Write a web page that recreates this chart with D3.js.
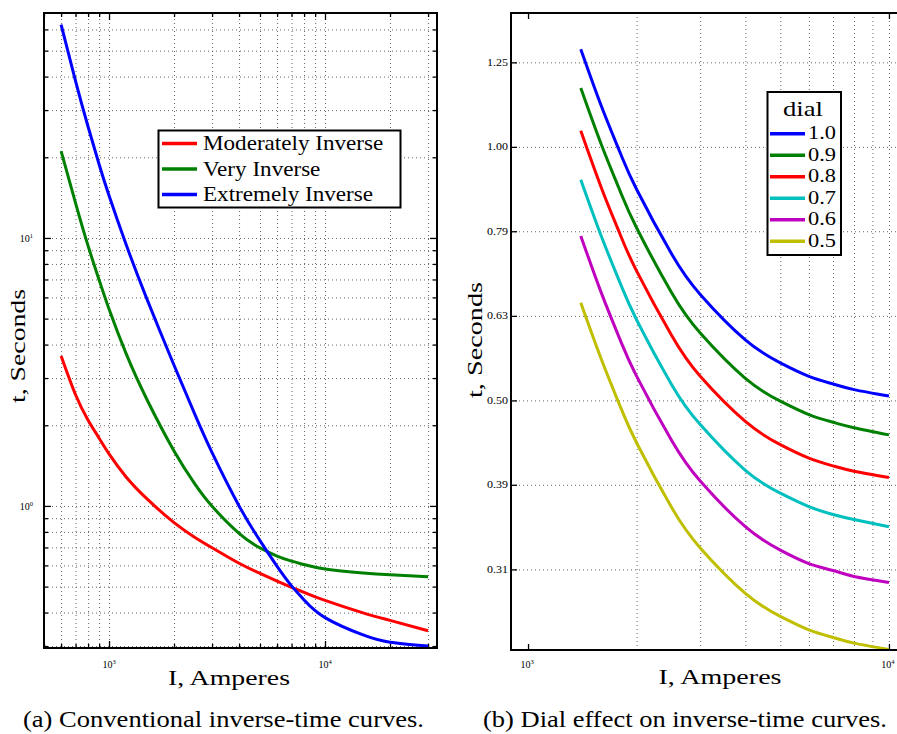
<!DOCTYPE html>
<html>
<head>
<meta charset="utf-8">
<script src="https://cdn.jsdelivr.net/npm/d3@7"></script>
<style>
  body { margin: 0; background: #fff; }
  text { font-family: "Liberation Serif", "Times New Roman", serif; fill: #000; }
  .grid line { stroke: #555; stroke-width: 0.9; stroke-dasharray: 1,3; }
  .grid .domain, .ticks .domain { display: none; }
  .ticks line { stroke: #000; stroke-width: 1.3; }
</style>
</head>
<body>
<svg id="chart" width="897" height="734" font-family="Liberation Serif, serif"></svg>
<script>
// (a) conventional inverse-time curves, current in A, time in s
const currentsA = [600, 700, 800, 900, 1000, 1200, 1500, 2000, 2500, 3000, 4000, 5000, 6000, 7000, 8000, 10000, 15000, 20000, 30000];
const moderatelyInverse = [3.63, 2.60, 2.09, 1.79, 1.563, 1.283, 1.062, 0.866, 0.763, 0.698, 0.611, 0.560, 0.524, 0.497, 0.476, 0.444, 0.399, 0.374, 0.342];
const veryInverse = [21.1, 13.5, 9.34, 6.97, 5.43, 3.70, 2.49, 1.604, 1.206, 0.997, 0.790, 0.697, 0.650, 0.622, 0.604, 0.582, 0.562, 0.553, 0.544];
const extremelyInverse = [62.5, 38.5, 26.0, 18.8, 14.4, 9.45, 5.9, 3.35, 2.19, 1.58, 1.0, 0.742, 0.595, 0.503, 0.446, 0.383, 0.330, 0.310, 0.300];
const curveNamesA = ["Moderately Inverse", "Very Inverse", "Extremely Inverse"];
const curveColorsA = ["#ff0000", "#008000", "#0000ff"];
const majorTicksXA = [1000, 10000];
const majorTicksYA = [1, 10];

// (b) dial effect
const currentsB = [1400, 1600, 1800, 2000, 2500, 3000, 4000, 5000, 6000, 7000, 8000, 10000];
const dial10 = [1.306, 1.115, 0.984, 0.890, 0.746, 0.668, 0.590, 0.554, 0.534, 0.523, 0.515, 0.506];
const dial09 = [1.175, 1.004, 0.886, 0.801, 0.671, 0.601, 0.531, 0.499, 0.481, 0.471, 0.464, 0.455];
const dial08 = [1.045, 0.892, 0.787, 0.712, 0.597, 0.534, 0.472, 0.443, 0.427, 0.418, 0.412, 0.405];
const dial07 = [0.914, 0.781, 0.689, 0.623, 0.522, 0.468, 0.413, 0.388, 0.374, 0.366, 0.361, 0.354];
const dial06 = [0.784, 0.669, 0.590, 0.534, 0.448, 0.401, 0.354, 0.332, 0.320, 0.314, 0.309, 0.304];
const dial05 = [0.653, 0.558, 0.492, 0.445, 0.373, 0.334, 0.295, 0.277, 0.267, 0.2615, 0.2575, 0.253];
const dialLabels = ["1.0", "0.9", "0.8", "0.7", "0.6", "0.5"];
const dialColors = ["#0000ff", "#008000", "#ff0000", "#00bfbf", "#bf00bf", "#bfbf00"];
const majorTicksXB = [1000, 10000];
const tickValuesYB = [1.26, 1.0, 0.794, 0.63, 0.5, 0.397, 0.315];
const tickLabelsYB = ["1.25", "1.00", "0.79", "0.63", "0.50", "0.39", "0.31"];

const svg = d3.select("#chart");
svg.append("rect").attr("width", 897).attr("height", 734).attr("fill", "#fff");

// widen text by factor k (CM-like proportions)
function stretch(sel, k) {
  sel.each(function() {
    const w = this.getComputedTextLength();
    d3.select(this).attr("textLength", w * k).attr("lengthAdjust", "spacingAndGlyphs");
  });
}

function powerLabel(g, x, y, v, anchor) {
  const t = g.append("text").attr("x", x).attr("y", y)
    .attr("text-anchor", anchor).attr("font-size", 10);
  t.append("tspan").text("10");
  t.append("tspan").attr("dy", -4).attr("font-size", 6.5).text(Math.round(Math.log10(v)));
}

// ---------- panel (a) ----------
const a = {left: 44, right: 437, top: 13, bottom: 648};
const xa = d3.scaleLog().domain([500, 33000]).range([a.left, a.right]);
const ya = d3.scaleLog().domain([0.295, 69.1]).range([a.bottom, a.top]);
const ga = svg.append("g");

ga.append("g").attr("class", "grid").attr("transform", `translate(0,${a.bottom})`)
  .call(d3.axisBottom(xa).tickSize(-(a.bottom - a.top)).tickFormat(""));
ga.append("g").attr("class", "grid").attr("transform", `translate(${a.left},0)`)
  .call(d3.axisLeft(ya).tickSize(-(a.right - a.left)).tickFormat(""));

const minorXA = xa.ticks().filter(v => !majorTicksXA.includes(v));
const minorYA = ya.ticks().filter(v => !majorTicksYA.some(m => Math.abs(m - v) < 1e-9));
[[majorTicksXA, 7], [minorXA, 4]].forEach(([vals, len]) => {
  ga.append("g").attr("class", "ticks").attr("transform", `translate(0,${a.bottom})`)
    .call(d3.axisBottom(xa).tickValues(vals).tickSize(-len).tickFormat(""));
  ga.append("g").attr("class", "ticks").attr("transform", `translate(0,${a.top})`)
    .call(d3.axisTop(xa).tickValues(vals).tickSize(-len).tickFormat(""));
});
[[majorTicksYA, 7], [minorYA, 4]].forEach(([vals, len]) => {
  ga.append("g").attr("class", "ticks").attr("transform", `translate(${a.left},0)`)
    .call(d3.axisLeft(ya).tickValues(vals).tickSize(-len).tickFormat(""));
  ga.append("g").attr("class", "ticks").attr("transform", `translate(${a.right},0)`)
    .call(d3.axisRight(ya).tickValues(vals).tickSize(-len).tickFormat(""));
});

majorTicksXA.forEach(v => powerLabel(ga, xa(v), 668, v, "middle"));
majorTicksYA.forEach(v => powerLabel(ga, 33, ya(v) + 4, v, "end"));

const lineA = d3.line().x(d => xa(d[0])).y(d => ya(d[1])).curve(d3.curveNatural);
[moderatelyInverse, veryInverse, extremelyInverse].forEach((vals, i) => {
  ga.append("path").datum(d3.zip(currentsA, vals))
    .attr("d", lineA).attr("fill", "none")
    .attr("stroke", curveColorsA[i]).attr("stroke-width", 3);
});

ga.append("rect").attr("x", a.left).attr("y", a.top)
  .attr("width", a.right - a.left).attr("height", a.bottom - a.top)
  .attr("fill", "none").attr("stroke", "#000").attr("stroke-width", 2);

// legend (a)
const la = ga.append("g");
la.append("rect").attr("x", 158.5).attr("y", 130.5).attr("width", 242).attr("height", 77)
  .attr("fill", "#fff").attr("stroke", "#000").attr("stroke-width", 2);
curveNamesA.forEach((name, i) => {
  const cy = 143.5 + i * 25.5;
  la.append("line").attr("x1", 162).attr("x2", 197).attr("y1", cy).attr("y2", cy)
    .attr("stroke", curveColorsA[i]).attr("stroke-width", 3.5);
  la.append("text").attr("x", 203).attr("y", cy + 6.5).attr("font-size", 21)
    .text(name).call(stretch, 1.1);
});

ga.append("text").attr("x", 229).attr("y", 685).attr("text-anchor", "middle")
  .attr("font-size", 21).attr("textLength", 122).attr("lengthAdjust", "spacingAndGlyphs")
  .text("I, Amperes");
ga.append("text").attr("transform", "translate(25,346) rotate(-90)").attr("text-anchor", "middle")
  .attr("font-size", 21).attr("textLength", 114).attr("lengthAdjust", "spacingAndGlyphs")
  .text("t, Seconds");
ga.append("text").attr("x", 23).attr("y", 727).attr("font-size", 23)
  .attr("textLength", 401).attr("lengthAdjust", "spacingAndGlyphs")
  .text("(a)  Conventional inverse-time curves.");

// ---------- panel (b) ----------
const b = {left: 511, right: 900, top: 13, bottom: 650};
const xb = d3.scaleLog().domain([897, 10730]).range([b.left, b.right]);
const yb = d3.scaleLog().domain([0.2527, 1.442]).range([b.bottom, b.top]);
const gb = svg.append("g");

gb.append("g").attr("class", "grid").attr("transform", `translate(0,${b.bottom})`)
  .call(d3.axisBottom(xb).tickValues(xb.ticks().filter(v => v > 1000))
    .tickSize(-(b.bottom - b.top)).tickFormat(""));
gb.append("g").attr("class", "grid").attr("transform", `translate(${b.left},0)`)
  .call(d3.axisLeft(yb).tickValues(tickValuesYB).tickSize(-(b.right - b.left)).tickFormat(""));

gb.append("g").attr("class", "ticks").attr("transform", `translate(0,${b.bottom})`)
  .call(d3.axisBottom(xb).tickValues(majorTicksXB).tickSize(-6).tickFormat(""));
gb.append("g").attr("class", "ticks").attr("transform", `translate(0,${b.top})`)
  .call(d3.axisTop(xb).tickValues(majorTicksXB).tickSize(-6).tickFormat(""));
gb.append("g").attr("class", "ticks").attr("transform", `translate(${b.left},0)`)
  .call(d3.axisLeft(yb).tickValues(tickValuesYB).tickSize(-6).tickFormat(""));

majorTicksXB.forEach(v => powerLabel(gb, xb(v) - 1, 668, v, "middle"));
tickValuesYB.forEach((v, i) => {
  gb.append("text").attr("x", 508).attr("y", yb(v) + 3.5).attr("text-anchor", "end")
    .attr("font-size", 10).text(tickLabelsYB[i]).call(stretch, 1.2);
});

const lineB = d3.line().x(d => xb(d[0])).y(d => yb(d[1])).curve(d3.curveNatural);
[dial10, dial09, dial08, dial07, dial06, dial05].forEach((vals, i) => {
  gb.append("path").datum(d3.zip(currentsB, vals))
    .attr("d", lineB).attr("fill", "none")
    .attr("stroke", dialColors[i]).attr("stroke-width", 3);
});

gb.append("rect").attr("x", b.left).attr("y", b.top)
  .attr("width", b.right - b.left).attr("height", b.bottom - b.top)
  .attr("fill", "none").attr("stroke", "#000").attr("stroke-width", 2);

// legend (b)
const lb = gb.append("g");
lb.append("rect").attr("x", 767.5).attr("y", 92).attr("width", 73.5).attr("height", 163)
  .attr("fill", "#fff").attr("stroke", "#000").attr("stroke-width", 2);
lb.append("text").attr("x", 803).attr("y", 115.5).attr("text-anchor", "middle")
  .attr("font-size", 21).attr("textLength", 40).attr("lengthAdjust", "spacingAndGlyphs")
  .text("dial");
dialLabels.forEach((lab, i) => {
  const cy = 133.7 + i * 21.5;
  lb.append("line").attr("x1", 770).attr("x2", 805).attr("y1", cy).attr("y2", cy)
    .attr("stroke", dialColors[i]).attr("stroke-width", 3.5);
  lb.append("text").attr("x", 808).attr("y", cy + 5.5).attr("font-size", 19)
    .attr("textLength", 28).attr("lengthAdjust", "spacingAndGlyphs").text(lab);
});

gb.append("text").attr("x", 720).attr("y", 684).attr("text-anchor", "middle")
  .attr("font-size", 21).attr("textLength", 123).attr("lengthAdjust", "spacingAndGlyphs")
  .text("I, Amperes");
gb.append("text").attr("transform", "translate(482,340) rotate(-90)").attr("text-anchor", "middle")
  .attr("font-size", 21).attr("textLength", 116).attr("lengthAdjust", "spacingAndGlyphs")
  .text("t, Seconds");
gb.append("text").attr("x", 483).attr("y", 727).attr("font-size", 23)
  .attr("textLength", 404).attr("lengthAdjust", "spacingAndGlyphs")
  .text("(b)  Dial effect on inverse-time curves.");
</script>
</body>
</html>
